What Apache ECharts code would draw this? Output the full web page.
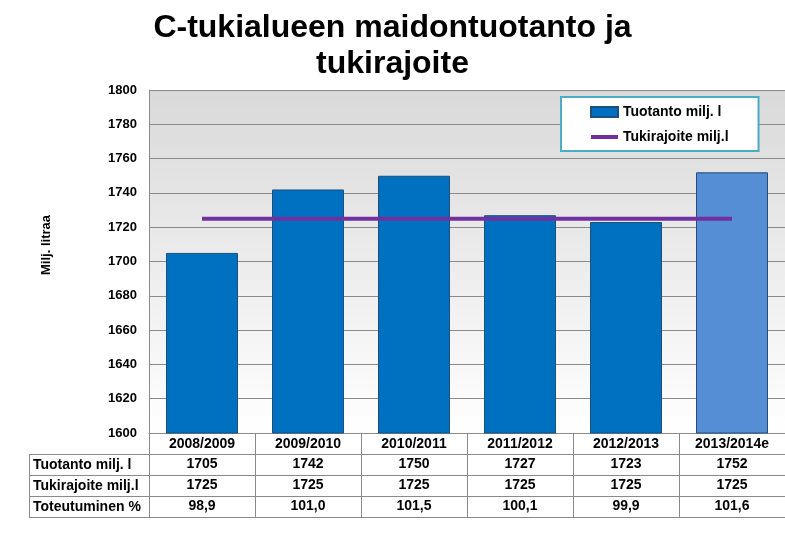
<!DOCTYPE html>
<html><head><meta charset="utf-8">
<script src="https://cdn.jsdelivr.net/npm/echarts@6/dist/echarts.min.js"></script>
<style>html,body{margin:0;padding:0;background:#fff}#c{width:785px;height:556px}</style>
</head><body><div id="c"></div>
<script>
const categories = ['2008/2009','2009/2010','2010/2011','2011/2012','2012/2013','2013/2014e'];
const production = [1705, 1742, 1750, 1727, 1723, 1752];
const limit = [1725, 1725, 1725, 1725, 1725, 1725];
const realization = ['98,9', '101,0', '101,5', '100,1', '99,9', '101,6'];
const rowLabels = ['Tuotanto milj. l', 'Tukirajoite milj.l', 'Toteutuminen %'];
const seriesNames = ['Tuotanto milj. l', 'Tukirajoite milj.l'];
const titleText = 'C-tukialueen maidontuotanto ja\ntukirajoite';
const yName = 'Milj. litraa';
const yMin = 1600, yMax = 1800, yStep = 20;

const FONT = '"Liberation Sans", Arial, sans-serif';
const LINE = '#8a8a8a';
const rows = [production.map(String), limit.map(String), realization];

const chart = echarts.init(document.getElementById('c'));

const tableAxes = rows.map((row, k) => ({
  type: 'category', data: categories, position: 'bottom', offset: 21 * (k + 1),
  axisLine: { show: true, lineStyle: { color: LINE, width: 1 } },
  axisTick: { show: true, length: 21, interval: 0, lineStyle: { color: LINE, width: 1 } },
  axisLabel: { interval: 0, margin: 10, verticalAlign: 'middle', fontFamily: FONT, fontWeight: 'bold', fontSize: 14, color: '#000',
    formatter: (v, i) => row[i] }
}));

const option = {
  animation: false,
  backgroundColor: '#fff',
  title: {
    text: titleText, left: 'center', top: 5,
    textStyle: { fontFamily: FONT, fontWeight: 'bold', fontSize: 32, lineHeight: 36, color: '#000' }
  },
  legend: {
    orient: 'vertical', left: 561, top: 97,
    backgroundColor: '#fff', borderColor: '#4BACC6', borderWidth: 2,
    padding: [8, 30, 7, 28], itemGap: 11, itemWidth: 27, itemHeight: 10,
    textStyle: { fontFamily: FONT, fontWeight: 'bold', fontSize: 14, color: '#000' },
    data: [
      { name: seriesNames[0], icon: 'rect' },
      { name: seriesNames[1], itemStyle: { opacity: 0 }, lineStyle: { width: 4, color: '#7030A0' } }
    ]
  },
  grid: {
    left: 149, right: 0, top: 90, bottom: 123, show: true, borderWidth: 0,
    backgroundColor: new echarts.graphic.LinearGradient(0, 0, 0, 1, [
      { offset: 0, color: '#d9d9d9' }, { offset: 1, color: '#ffffff' }
    ])
  },
  xAxis: [{
    type: 'category', data: categories, position: 'bottom',
    axisLine: { show: true, lineStyle: { color: LINE, width: 1 } },
    axisTick: { show: true, length: 21, interval: 0, lineStyle: { color: LINE, width: 1 } },
    axisLabel: { interval: 0, margin: 11, verticalAlign: 'middle', fontFamily: FONT, fontWeight: 'bold', fontSize: 14, color: '#000' }
  }].concat(tableAxes).concat([{
    type: 'category', data: categories, position: 'bottom', offset: 84,
    axisLine: { show: true, lineStyle: { color: LINE, width: 1 } },
    axisTick: { show: false }, axisLabel: { show: false }
  }]),
  yAxis: {
    type: 'value', min: yMin, max: yMax, interval: yStep,
    axisLine: { show: true, lineStyle: { color: LINE, width: 1 } },
    axisTick: { show: false },
    axisLabel: { margin: 12, fontFamily: FONT, fontWeight: 'bold', fontSize: 13, color: '#000', formatter: v => String(v) },
    splitLine: { show: true, lineStyle: { color: LINE, width: 1 } }
  },
  graphic: [
    { type: 'text', left: 40, top: 215, rotation: Math.PI / 2,
      style: { text: yName, fontFamily: FONT, fontWeight: 'bold', fontSize: 13, fill: '#000' } },
    ...rowLabels.map((t, k) => ({ type: 'text', left: 33, top: 458 + 21 * k,
      style: { text: t, fontFamily: FONT, fontWeight: 'bold', fontSize: 14, fill: '#000' } })),
    ...[0, 1, 2, 3].map(k => ({ type: 'line', shape: { x1: 29, y1: 454.5 + 21 * k, x2: 149, y2: 454.5 + 21 * k },
      style: { stroke: LINE, lineWidth: 1 } })),
    { type: 'line', shape: { x1: 29.5, y1: 454, x2: 29.5, y2: 517 }, style: { stroke: LINE, lineWidth: 1 } }
  ],
  series: [
    { name: seriesNames[0], type: 'bar', barWidth: 72,
      itemStyle: { color: '#0070C0', borderColor: '#1F4E79', borderWidth: 1 },
      data: production.map((v, i) => i === production.length - 1 ? { value: v, itemStyle: { color: '#558ED5' } } : v) },
    { name: seriesNames[1], type: 'line', data: limit, symbol: 'none', z: 5,
      lineStyle: { color: '#7030A0', width: 4 }, itemStyle: { color: '#7030A0' } }
  ]
};
chart.setOption(option);
</script></body></html>
